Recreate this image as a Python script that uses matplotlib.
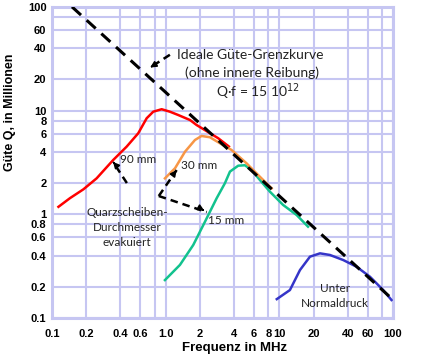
import numpy as np
import matplotlib
matplotlib.use('Agg')
import matplotlib.pyplot as plt
from matplotlib.ticker import FixedLocator, NullLocator

# values (frequency in MHz, Q in millions)
f_90 = [0.114, 0.144, 0.189, 0.247, 0.346, 0.454, 0.574, 0.681, 0.778,
        0.922, 1.09, 1.29, 1.64, 1.87, 2.9, 3.6]
q_90 = [1.18, 1.43, 1.74, 2.22, 3.34, 4.49, 6.04, 8.43, 9.75,
        10.3, 9.75, 9.06, 8.1, 7.26, 5.41, 4.5]

f_30 = [0.986, 1.21, 1.48, 1.81, 2.07, 2.45, 3.0, 3.8, 5.15, 6.75, 8.56]
q_30 = [2.22, 2.78, 4.01, 5.2, 5.69, 5.53, 4.84, 4.17, 3.1, 2.3, 1.78]

f_15 = [0.986, 1.336, 1.75, 2.22, 2.81, 3.32, 3.68, 4.35, 4.98, 5.7,
        6.75, 8.27, 10.8, 14.2, 17.9]
q_15 = [0.232, 0.325, 0.506, 0.849, 1.427, 1.99, 2.58, 2.94, 2.97, 2.67,
        2.14, 1.65, 1.23, 0.984, 0.759]

f_air = [9.5, 12.4, 15.2, 18.6, 22.8, 27.9, 36.5, 47.8, 62.7, 82, 97]
q_air = [0.152, 0.186, 0.29, 0.39, 0.42, 0.405, 0.362, 0.312, 0.25, 0.186, 0.149]

qf_limit = 15.0  # Q*f = 15e12 -> Q[Mio] = 15 / f[MHz]
f_limit = np.array([0.15, 100])

grid_ticks = [0.1, 0.2, 0.4, 0.6, 0.8, 1, 2, 4, 6, 8, 10, 20, 40, 60, 80, 100]
x_labels = ['0.1', '0.2', '0.4', '0.6', '', '1.0', '2', '4', '6', '8', '10',
            '20', '40', '60', '', '100']
y_labels = ['0.1', '0.2', '0.4', '0.6', '0.8', '1', '2', '4', '6', '8', '10',
            '20', '40', '60', '', '100']

grid_col = '#c6c6f2'

fig = plt.figure(figsize=(4.26, 3.6), dpi=100)
ax = fig.add_axes([0.122, 0.1167, 0.8005, 0.8643])
ax.set_xscale('log')
ax.set_yscale('log')
ax.set_xlim(0.1, 100)
ax.set_ylim(0.1, 100)

ax.xaxis.set_major_locator(FixedLocator(grid_ticks))
ax.yaxis.set_major_locator(FixedLocator(grid_ticks))
ax.xaxis.set_minor_locator(NullLocator())
ax.yaxis.set_minor_locator(NullLocator())
ax.set_xticklabels(x_labels)
ax.set_yticklabels(y_labels)
ax.tick_params(length=0, labelsize=8)
ax.tick_params(axis='x', pad=8)
ax.tick_params(axis='y', pad=4)
for lab in ax.get_xticklabels() + ax.get_yticklabels():
    lab.set_fontweight('bold')
    lab.set_family('Liberation Sans')
ax.grid(True, color=grid_col, lw=1.5, zorder=0)
ax.set_axisbelow(True)
for s in ax.spines.values():
    s.set_color(grid_col)
    s.set_linewidth(2.2)

ax.plot(f_90, q_90, color='#ff0000', lw=1.8, zorder=3)
ax.plot(f_30, q_30, color='#f79646', lw=1.8, zorder=4)
ax.plot(f_15, q_15, color='#12c28e', lw=1.8, zorder=3)
ax.plot(f_air, q_air, color='#3535c8', lw=1.8, zorder=3)
ax.plot(f_limit, qf_limit / f_limit, color='black', lw=2.2, dashes=(4, 2.5), zorder=5)

# dashed arrows (tail, head)
arrows = [((1.09, 34.5), (0.73, 26)),
          ((0.456, 2.0), (0.344, 3.2)),
          ((0.87, 1.5), (1.25, 2.67)),
          ((0.87, 1.5), (2.3, 1.05))]
for (x0, y0), (x1, y1) in arrows:
    ax.plot([x0, x1], [y0, y1], color='black', lw=1.8, dashes=(3, 2), zorder=6)
    ax.annotate('', xy=(x1, y1), xytext=(x0 + (x1 - x0) * 0.8, y0 + (y1 - y0) * 0.8),
                arrowprops=dict(arrowstyle='-|>', color='black', lw=1.2,
                                mutation_scale=9), zorder=6)

tf = dict(family='Lato', fontsize=8.5, color='#222222', zorder=7)
tb = dict(tf, fontsize=10)
ax.text(1.25, 34.5, 'Ideale Güte-Grenzkurve', ha='left', va='center', **tb)
ax.text(5.7, 23, '(ohne innere Reibung)', ha='center', va='center', **tb)
ax.text(2.77, 15.2, 'Q·f = 15 10$^{12}$', ha='left', va='center', **tb)
ax.text(0.396, 3.38, '90 mm', ha='left', va='center', **tf)
ax.text(1.36, 2.93, '30 mm', ha='left', va='center', **tf)
ax.text(2.35, 0.88, '15 mm', ha='left', va='center', **tf)
ax.text(0.456, 0.75, 'Quarzscheiben-\nDurchmesser\nevakuiert', ha='center',
        va='center', linespacing=1.45, **tf)
ax.text(30.8, 0.162, 'Unter\nNormaldruck', ha='center', va='center',
        linespacing=1.45, **tf)

ax.set_ylabel('Güte Q, in Millionen', fontsize=9, fontweight='bold',
              family='Liberation Sans')
ax.set_xlabel('Frequenz in MHz', fontsize=9.5, fontweight='bold',
              family='Liberation Sans')
ax.yaxis.set_label_coords(-0.106, 0.662)
ax.xaxis.set_label_coords(0.534, -0.077)

fig.savefig('out.png', dpi=100)
